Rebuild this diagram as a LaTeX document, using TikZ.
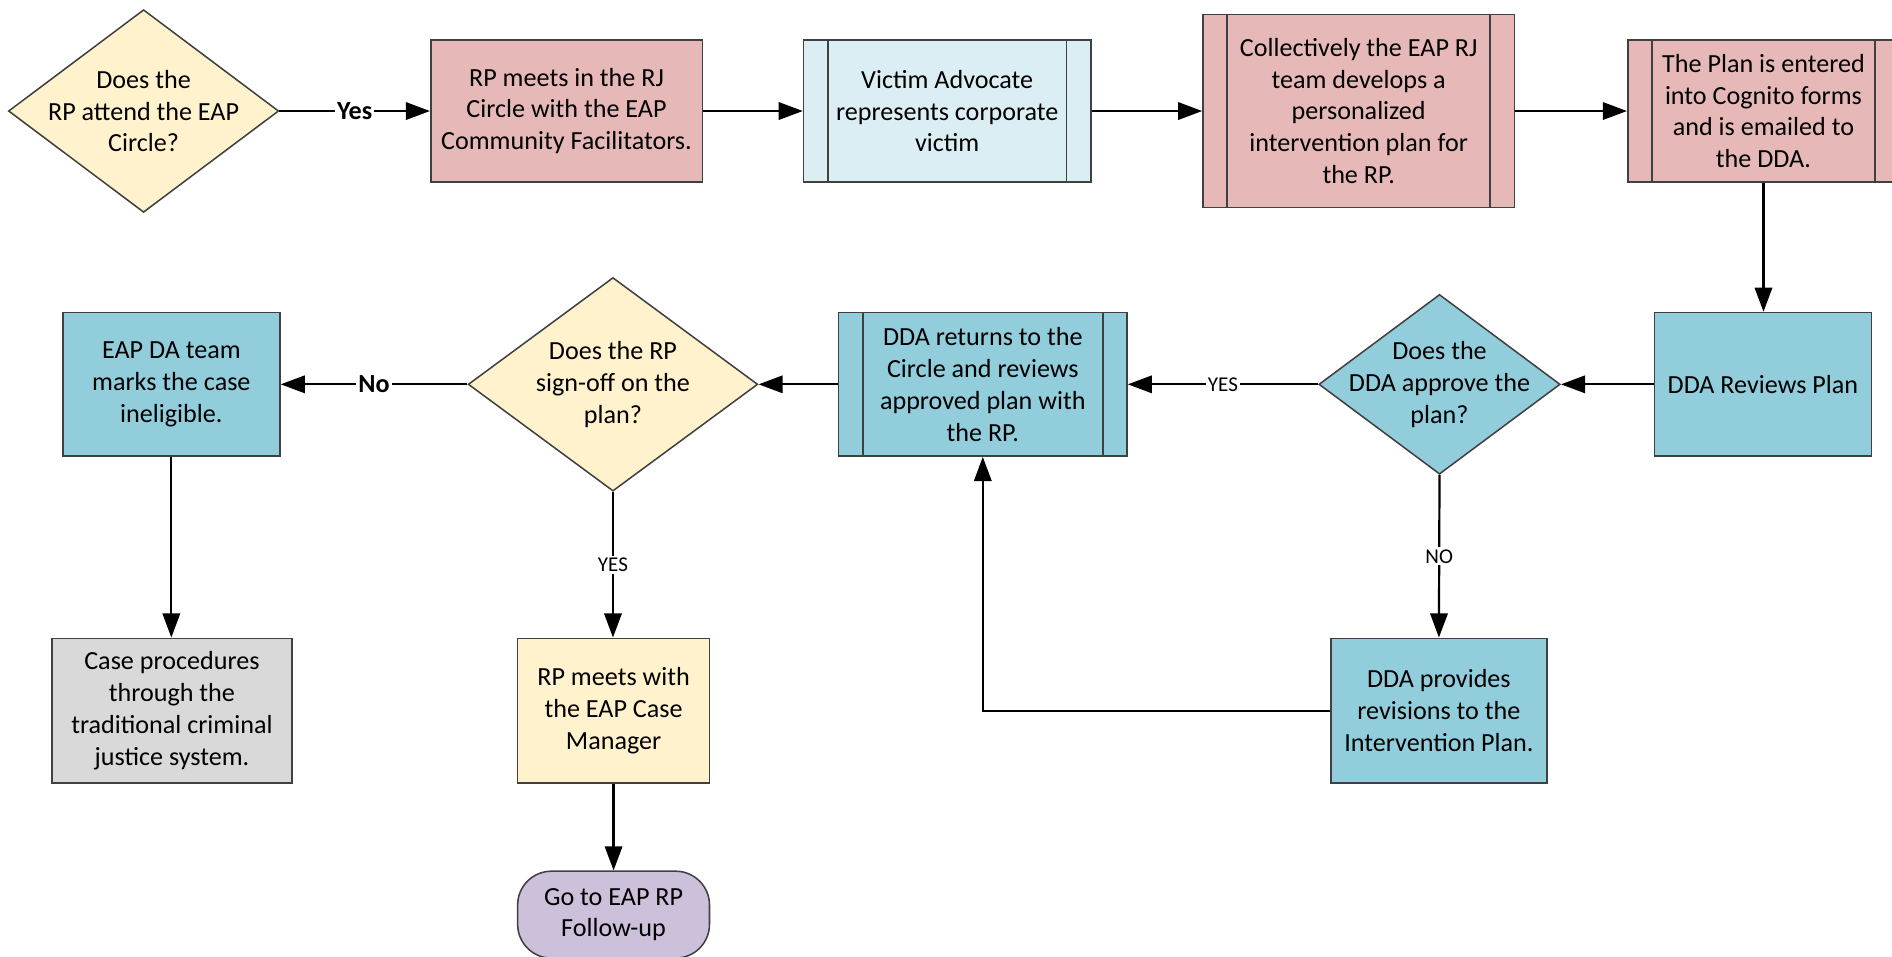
\documentclass[tikz,border=0pt]{standalone}
\usepackage{fontspec}
\setmainfont{Carlito}
\usetikzlibrary{shapes.geometric, arrows.meta}

\definecolor{cYellow}{HTML}{FFF2CC}
\definecolor{cPink}{HTML}{E6B8B7}
\definecolor{cIce}{HTML}{DAEEF3}
\definecolor{cTeal}{HTML}{92CDDC}
\definecolor{cGray}{HTML}{D9D9D9}
\definecolor{cLilac}{HTML}{CCC0DA}
\definecolor{cEdge}{HTML}{404040}

\begin{document}
\begin{tikzpicture}[x=0.0125cm, y=-0.0125cm,
  font=\fontsize{7.7pt}{9.4pt}\selectfont,
  shapebase/.style={draw=cEdge, line width=0.45pt, inner sep=0pt, align=center},
  procbox/.style n args={3}{shapebase, rectangle, fill=#1,
    minimum width=#2*0.0125cm, minimum height=#3*0.0125cm},
  predef/.style n args={3}{procbox={#1}{#2}{#3},
    path picture={
      \draw[cEdge, line width=0.45pt]
        ([xshift=0.25cm]path picture bounding box.north west) --
        ([xshift=0.25cm]path picture bounding box.south west)
        ([xshift=-0.25cm]path picture bounding box.north east) --
        ([xshift=-0.25cm]path picture bounding box.south east);}},
  decision/.style n args={3}{shapebase, diamond, fill=#1,
    minimum width=#2*0.0125cm, minimum height=#3*0.0125cm},
  terminal/.style n args={3}{procbox={#1}{#2}{#3}, rounded corners=0.35cm},
  arr/.style={draw=black, line width=0.65pt, -{Triangle[length=0.25cm, width=0.18cm]}},
  lbl/.style={fill=white, inner sep=0.6pt, font=\fontsize{6.2pt}{7pt}\selectfont},
  blbl/.style={fill=white, inner sep=0.6pt, font=\fontsize{7.7pt}{9pt}\selectfont\bfseries},
]
\useasboundingbox (0,0) rectangle (1568,793);

% top row
\node[decision={cYellow}{224}{168},
  label={[align=center]center:Does the\\RP attend the EAP\\Circle?}] (d1) at (119,92) {};
\node[procbox={cPink}{225}{118}] (b1) at (469.5,92)
  {RP meets in the RJ\\Circle with the EAP\\Community Facilitators.};
\node[predef={cIce}{238}{118}] (b2) at (785,92)
  {Victim Advocate\\represents corporate\\victim};
\node[predef={cPink}{258}{160}] (b3) at (1126,92)
  {Collectively the EAP RJ\\team develops a\\personalized\\intervention plan for\\the RP.};
\node[predef={cPink}{225}{118}] (b4) at (1461.5,92)
  {The Plan is entered\\into Cognito forms\\and is emailed to\\the DDA.};

% middle row
\node[procbox={cTeal}{180}{119}] (r1) at (1461,318.5) {DDA Reviews Plan};
\node[decision={cTeal}{200}{149},
  label={[align=center]center:Does the\\DDA approve the\\plan?}] (d2) at (1193,318.5) {};
\node[predef={cTeal}{239}{119}] (p1) at (814.5,318.5)
  {DDA returns to the\\Circle and reviews\\approved plan with\\the RP.};
\node[decision={cYellow}{240}{177},
  label={[align=center]center:Does the RP\\sign-off on the\\plan?}] (d3) at (508,318.5) {};
\node[procbox={cTeal}{180}{119}] (e1) at (142,318.5)
  {EAP DA team\\marks the case\\ineligible.};

% bottom row
\node[procbox={cGray}{199}{120}] (g1) at (142.5,589)
  {Case procedures\\through the\\traditional criminal\\justice system.};
\node[procbox={cYellow}{159}{120}] (y1) at (508.5,589)
  {RP meets with\\the EAP Case\\Manager};
\node[terminal={cLilac}{159}{72}] (t1) at (508.5,758)
  {Go to EAP RP\\Follow-up};
\node[procbox={cTeal}{179}{120}] (v1) at (1192.5,589)
  {DDA provides\\revisions to the\\Intervention Plan.};

% connectors
\draw[arr] (d1.east) -- node[blbl]{Yes} (b1.west);
\draw[arr] (b1.east) -- (b2.west);
\draw[arr] (b2.east) -- (b3.west);
\draw[arr] (b3.east) -- (b4.west);
\draw[arr] (b4.south) -- (b4.south |- r1.north);
\draw[arr] (r1.west) -- (d2.east);
\draw[arr] (d2.west) -- node[lbl]{YES} (p1.east);
\draw[arr] (d2.south) -- node[lbl]{NO} (v1.north);
\draw[arr] (v1.west) -| (p1.south);
\draw[arr] (p1.west) -- (d3.east);
\draw[arr] (d3.west) -- node[blbl]{No} (e1.east);
\draw[arr] (d3.south) -- node[lbl]{YES} (d3.south |- y1.north);
\draw[arr] (e1.south) -- (e1.south |- g1.north);
\draw[arr] (y1.south) -- (t1.north);
\end{tikzpicture}
\end{document}
